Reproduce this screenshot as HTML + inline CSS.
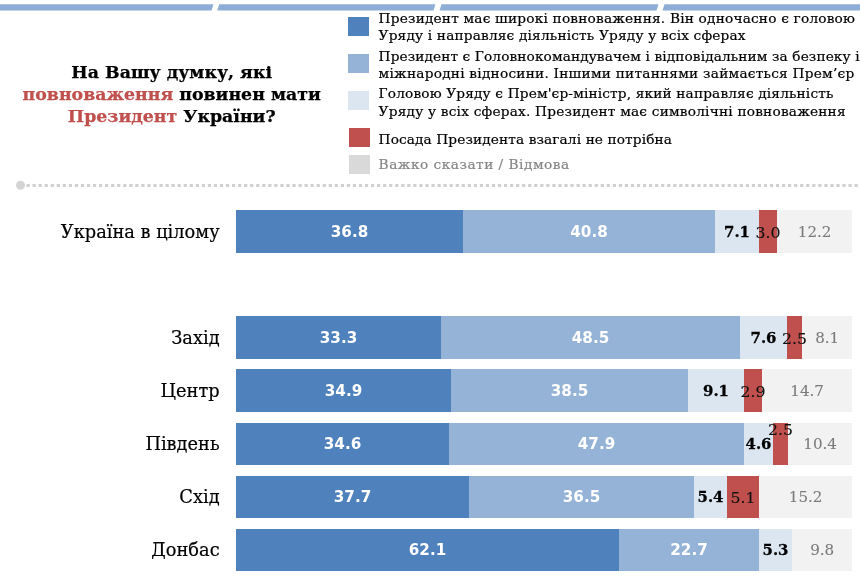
<!DOCTYPE html>
<html lang="uk">
<head>
<meta charset="utf-8">
<title>Повноваження Президента України</title>
<style>
html,body{margin:0;padding:0;background:#fff;}
body{width:860px;height:581px;position:relative;overflow:hidden;font-family:"DejaVu Serif","Liberation Serif",serif;color:#000;}
.topbar{position:absolute;left:0;top:0;width:860px;height:16px;}
.title{-webkit-text-stroke:0.25px currentColor;position:absolute;left:0;top:60.7px;width:343.4px;text-align:center;font-weight:bold;font-size:17.35px;line-height:22.3px;color:#000;white-space:nowrap;}
.title .r{color:#C0504D;}
.legend{position:absolute;left:0;top:0;width:860px;height:180px;}
.sw{position:absolute;left:348.2px;width:20.6px;height:18.6px;}
.lt{-webkit-text-stroke:0.2px currentColor;position:absolute;left:378.6px;white-space:nowrap;font-size:13.7px;line-height:16px;color:#000;}
.lt.g{color:#868686;}
.dots{position:absolute;left:0;top:178px;width:860px;height:14px;}
.row{position:absolute;left:0;width:860px;height:42.3px;}
.cat{-webkit-text-stroke:0.2px currentColor;position:absolute;right:640.4px;top:0.8px;height:42.3px;line-height:42.3px;font-size:17.8px;white-space:nowrap;color:#000;}
.seg{position:absolute;top:0;height:42.3px;display:flex;align-items:center;justify-content:center;white-space:nowrap;}
.seg span{display:block;line-height:1;position:relative;z-index:1;}
.s1{background:#4F81BD;color:#fff;font-family:"DejaVu Sans","Liberation Sans",sans-serif;font-weight:bold;font-size:15.2px;}
.s2{background:#95B3D7;color:#fff;font-family:"DejaVu Sans","Liberation Sans",sans-serif;font-weight:bold;font-size:15.2px;}
.s3{-webkit-text-stroke:0.3px #000;background:#DCE6F1;color:#000;font-weight:bold;font-size:14.9px;}
.s4{-webkit-text-stroke:0.15px #111;background:#C0504D;color:#111;font-size:15.7px;}
.s5{-webkit-text-stroke:0.1px #7a7a7a;background:#F2F2F2;color:#7a7a7a;font-size:15.1px;}
.s1 span,.s2 span{top:1.4px;}
.s3 span,.s4 span,.s5 span{top:1px;}
.seg.up span{top:-14px;}
</style>
</head>
<body>
<svg class="topbar" viewBox="0 0 860 16">
  <g fill="#8EADD6">
    <polygon points="0,4.3 213.5,4.3 211.5,10.5 0,10.5"/>
    <polygon points="219.2,4.3 435.5,4.3 433.5,10.5 217.2,10.5"/>
    <polygon points="441.5,4.3 658.5,4.3 656.5,10.5 439.5,10.5"/>
    <polygon points="664.5,4.3 860,4.3 860,10.5 662.5,10.5"/>
  </g>
</svg>

<div class="title">На Вашу думку, які<br><span class="r">повноваження</span> повинен мати<br><span class="r">Президент</span> України?</div>

<div class="legend">
  <div class="sw" style="top:17px;background:#4F81BD"></div>
  <div class="sw" style="top:54px;background:#95B3D7"></div>
  <div class="sw" style="top:91px;background:#DCE6F1"></div>
  <div class="sw" style="top:128px;left:349px;background:#C0504D"></div>
  <div class="sw" style="top:155.1px;left:349px;background:#D9D9D9"></div>
  <div class="lt" id="L1" style="top:10.36px;letter-spacing:0.195px;">Президент має широкі повноваження. Він одночасно є головою</div>
  <div class="lt" id="L2" style="top:27.06px;letter-spacing:0.174px;">Уряду і направляє діяльність Уряду у всіх сферах</div>
  <div class="lt" id="L3" style="top:48.26px;letter-spacing:0.107px;">Президент є Головнокомандувачем і відповідальним за безпеку і</div>
  <div class="lt" id="L4" style="top:65.16px;letter-spacing:0.236px;">міжнародні відносини. Іншими питаннями займається Прем’єр</div>
  <div class="lt" id="L5" style="top:85.26px;letter-spacing:0.154px;">Головою Уряду є Прем'єр-міністр, який направляє діяльність</div>
  <div class="lt" id="L6" style="top:102.96px;letter-spacing:0.207px;">Уряду у всіх сферах. Президент має символічні повноваження</div>
  <div class="lt" id="L7" style="top:131.16px;letter-spacing:0.111px;">Посада Президента взагалі не потрібна</div>
  <div class="lt g" id="L8" style="top:155.96px;letter-spacing:0.500px;">Важко сказати / Відмова</div>
</div>

<svg class="dots" viewBox="0 0 860 14">
  <circle cx="20.5" cy="7.3" r="4.5" fill="#D4D4D4"/>
  <line x1="26.5" y1="7.4" x2="860" y2="7.4" stroke="#D0D0D0" stroke-width="3" stroke-dasharray="3.2 2.844"/>
</svg>

<div class="row" style="top:210.3px">
  <div class="cat" style="">Україна в цілому</div>
  <div class="seg s1" style="left:236px;width:227px"><span>36.8</span></div>
  <div class="seg s2" style="left:463px;width:252px"><span>40.8</span></div>
  <div class="seg s3" style="left:715px;width:44px"><span>7.1</span></div>
  <div class="seg s4" style="left:759px;width:18px"><span>3.0</span></div>
  <div class="seg s5" style="left:777px;width:75.3px"><span>12.2</span></div>
</div>
<div class="row" style="top:316.4px">
  <div class="cat" style="">Захід</div>
  <div class="seg s1" style="left:236px;width:205px"><span>33.3</span></div>
  <div class="seg s2" style="left:441px;width:299px"><span>48.5</span></div>
  <div class="seg s3" style="left:740px;width:47px"><span>7.6</span></div>
  <div class="seg s4" style="left:787px;width:15px"><span>2.5</span></div>
  <div class="seg s5" style="left:802px;width:50.3px"><span>8.1</span></div>
</div>
<div class="row" style="top:369.4px">
  <div class="cat" style="">Центр</div>
  <div class="seg s1" style="left:236px;width:215px"><span>34.9</span></div>
  <div class="seg s2" style="left:451px;width:237px"><span>38.5</span></div>
  <div class="seg s3" style="left:688px;width:56px"><span>9.1</span></div>
  <div class="seg s4" style="left:744px;width:18px"><span>2.9</span></div>
  <div class="seg s5" style="left:762px;width:90.3px"><span>14.7</span></div>
</div>
<div class="row" style="top:422.5px">
  <div class="cat" style="">Південь</div>
  <div class="seg s1" style="left:236px;width:213px"><span>34.6</span></div>
  <div class="seg s2" style="left:449px;width:295px"><span>47.9</span></div>
  <div class="seg s3" style="left:744px;width:29px"><span>4.6</span></div>
  <div class="seg s4 up" style="left:773px;width:15px"><span>2.5</span></div>
  <div class="seg s5" style="left:788px;width:64.3px"><span>10.4</span></div>
</div>
<div class="row" style="top:475.5px">
  <div class="cat" style="">Схід</div>
  <div class="seg s1" style="left:236px;width:233px"><span>37.7</span></div>
  <div class="seg s2" style="left:469px;width:225px"><span>36.5</span></div>
  <div class="seg s3" style="left:694px;width:33px"><span>5.4</span></div>
  <div class="seg s4" style="left:727px;width:32px"><span>5.1</span></div>
  <div class="seg s5" style="left:759px;width:93.3px"><span>15.2</span></div>
</div>
<div class="row" style="top:528.5px">
  <div class="cat" style="">Донбас</div>
  <div class="seg s1" style="left:236px;width:383px"><span>62.1</span></div>
  <div class="seg s2" style="left:619px;width:140px"><span>22.7</span></div>
  <div class="seg s3" style="left:759px;width:33px"><span>5.3</span></div>
  <div class="seg s5" style="left:792px;width:60.3px"><span>9.8</span></div>
</div>
</body>
</html>
